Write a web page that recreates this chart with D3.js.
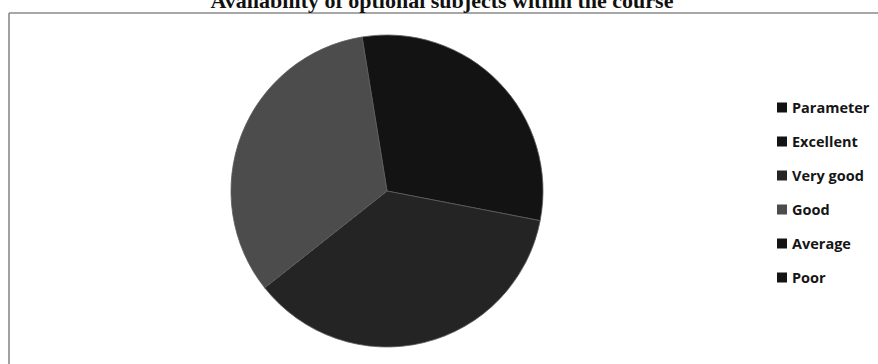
<!DOCTYPE html>
<html>
<head>
<meta charset="utf-8">
<script src="https://cdn.jsdelivr.net/npm/d3@7"></script>
<style>
  html, body { margin: 0; padding: 0; background: #fff; }
  svg { display: block; }
</style>
</head>
<body>
<svg id="chart" width="878" height="364"></svg>
<script>
const title = "Availability of optional subjects within the course";
const categories = ["Parameter", "Excellent", "Very good", "Good", "Average", "Poor"];
const values = [0, 30.6, 36.3, 33.1, 0, 0];
const colors = ["#121212", "#131313", "#242424", "#4c4c4c", "#141414", "#141414"];

const svg = d3.select("#chart");

// frame (top and left edges visible in the scan)
svg.append("line").attr("x1", 9).attr("x2", 878).attr("y1", 13).attr("y2", 13)
  .attr("stroke", "#8a8a8a").attr("stroke-width", 1.6);
svg.append("line").attr("x1", 9).attr("x2", 9).attr("y1", 13).attr("y2", 364)
  .attr("stroke", "#8a8a8a").attr("stroke-width", 1.6);

// title (partly cut off at top, as in the scan)
svg.append("text")
  .attr("x", 442).attr("y", 8)
  .attr("text-anchor", "middle")
  .attr("font-family", "'Liberation Serif', 'Times New Roman', serif")
  .attr("font-weight", "bold")
  .attr("font-size", 22)
  .attr("fill", "#111")
  .text(title);

const data = categories.map((c, i) => ({ cat: c, value: values[i], color: colors[i] }));

const cx = 387, cy = 191, r = 156;
const offset = -9.2 * Math.PI / 180;
const pie = d3.pie().value(d => d.value).sort(null)
  .startAngle(offset).endAngle(offset + 2 * Math.PI);
const arc = d3.arc().innerRadius(0).outerRadius(r);

const g = svg.append("g").attr("transform", `translate(${cx},${cy})`);
g.selectAll("path")
  .data(pie(data).filter(d => d.data.value > 0))
  .join("path")
  .attr("d", arc)
  .attr("fill", d => d.data.color)
  .attr("stroke", "#5c5c5c")
  .attr("stroke-width", 0.8);

// legend
const y = d3.scalePoint().domain(categories).range([107.5, 277.5]);
const leg = svg.append("g");
const item = leg.selectAll("g").data(data).join("g")
  .attr("transform", d => `translate(777,${y(d.cat)})`);
item.append("rect")
  .attr("x", 0).attr("y", -5).attr("width", 10).attr("height", 10)
  .attr("fill", d => d.color);
item.append("text")
  .attr("x", 15).attr("y", 5)
  .attr("font-family", "'Open Sans', sans-serif")
  .attr("font-weight", "bold")
  .attr("font-size", 14.5)
  .attr("fill", "#151515")
  .text(d => d.cat);
</script>
</body>
</html>
